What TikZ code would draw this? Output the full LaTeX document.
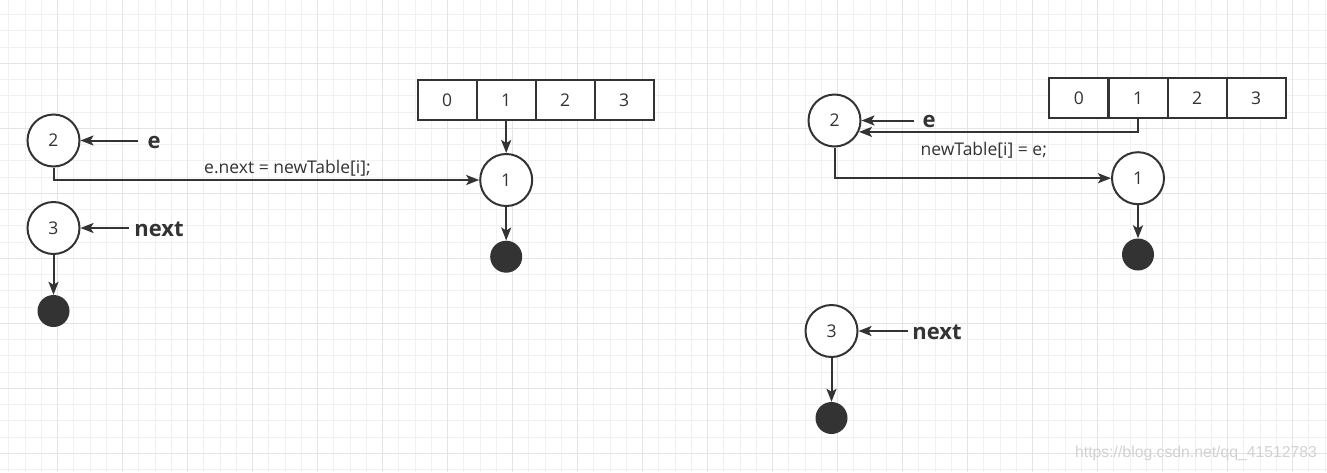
\documentclass[tikz,border=0pt]{standalone}
\usepackage{fontspec}
\setmainfont{Open Sans}
\newfontfamily\wmfont{Liberation Sans}
\usetikzlibrary{arrows.meta}
\definecolor{ink}{HTML}{333333}
\definecolor{gridminor}{HTML}{F1F1F1}
\definecolor{gridmajor}{HTML}{E4E4E4}
\definecolor{wm}{HTML}{D2D2D2}
\begin{document}
\begin{tikzpicture}[x=1pt,y=-1pt,
  nodecirc/.style={circle, draw=ink, line width=2pt, fill=white, minimum size=52pt, inner sep=0pt, font=\fontsize{17.5}{20}\selectfont, text=ink},
  cellbox/.style={rectangle, draw=ink, line width=2pt, fill=white, minimum width=59pt, minimum height=39.5pt, inner sep=0pt, font=\fontsize{17.5}{20}\selectfont, text=ink},
  nulldot/.style={circle, fill=ink, minimum size=32pt, inner sep=0pt},
  link/.style={draw=ink, line width=2pt, -{Stealth[length=13pt,width=10pt,inset=3pt]}},
  ptrlabel/.style={font=\bfseries\fontsize{22}{26}\selectfont, text=ink, inner sep=0pt},
  codelabel/.style={font=\fontsize{17.5}{20}\selectfont, text=ink, inner sep=0pt, anchor=base},
]
\path[use as bounding box, fill=white] (0,0) rectangle (1327,472);
% grid
\foreach \i in {0,...,81} \draw[gridminor, line width=1pt] ({8.95+16.25*\i},0) -- ({8.95+16.25*\i},472);
\foreach \j in {0,...,28} \draw[gridminor, line width=1pt] (0,{14.55+16.25*\j}) -- (1327,{14.55+16.25*\j});
\foreach \i in {0,...,19} \draw[gridmajor, line width=1pt] ({57.7+65*\i},0) -- ({57.7+65*\i},472);
\foreach \j in {0,...,6} \draw[gridmajor, line width=1pt] (0,{63.3+65*\j}) -- (1327,{63.3+65*\j});

% ---------- left ----------
\node[cellbox] (lc0) at (447.2,100) {0};
\node[cellbox] (lc1) at (506.2,100) {1};
\node[cellbox] (lc2) at (565.2,100) {2};
\node[cellbox] (lc3) at (624.2,100) {3};
\node[nodecirc] (l2) at (53.5,140.5) {2};
\node[nodecirc] (l3) at (53.5,228) {3};
\node[nulldot] (ld3) at (53.5,311) {};
\node[nodecirc] (l1) at (506.2,180) {1};
\node[nulldot] (ld1) at (506.2,256.7) {};
\node[ptrlabel] (le) at (154.2,142) {e};
\node[ptrlabel] (lnext) at (159,229.3) {next};
\coordinate (les) at (137.7,140.5);
\coordinate (lns) at (129.3,228);
\node[codelabel] (lcode) at (287.5,173.3) {e.next = newTable[i];};
\draw[link] (lc1) -- (l1);
\draw[link] (l1) -- (ld1);
\draw[link] (l3) -- (ld3);
\draw[link] (l2.south) |- (l1.west);
\draw[link] (les) -- (l2.east);
\draw[link] (lns) -- (l3.east);

% ---------- right ----------
\node[cellbox] (rc0) at (1078.9,98.2) {0};
\node[cellbox] (rc1) at (1138,98.2) {1};
\node[cellbox] (rc2) at (1197.1,98.2) {2};
\node[cellbox] (rc3) at (1256.2,98.2) {3};
\node[nodecirc] (r2) at (834.5,120.5) {2};
\node[nodecirc] (r1) at (1138,178.2) {1};
\node[nulldot] (rd1) at (1138,254.5) {};
\node[nodecirc] (r3) at (831.5,331) {3};
\node[nulldot] (rd3) at (831.5,418) {};
\node[ptrlabel] (re) at (929,121.7) {e};
\node[ptrlabel] (rnext) at (937,332.2) {next};
\coordinate (res) at (914,120.5);
\coordinate (rns) at (908,331);
\node[codelabel] (rcode) at (983.8,155.7) {newTable[i] = e;};
\draw[link] (rc1.south) |- (r2.-25.7);
\draw[link] (r2.south) |- (r1.west);
\draw[link] (r1) -- (rd1);
\draw[link] (r3) -- (rd3);
\draw[link] (res) -- (r2.east);
\draw[link] (rns) -- (r3.east);

\node[font=\wmfont\fontsize{15.75}{18}\selectfont, text=wm, anchor=west, inner sep=0pt] (wmark) at (1075,453) {https://blog.csdn.net/qq\_41512783};
\end{tikzpicture}
\end{document}
